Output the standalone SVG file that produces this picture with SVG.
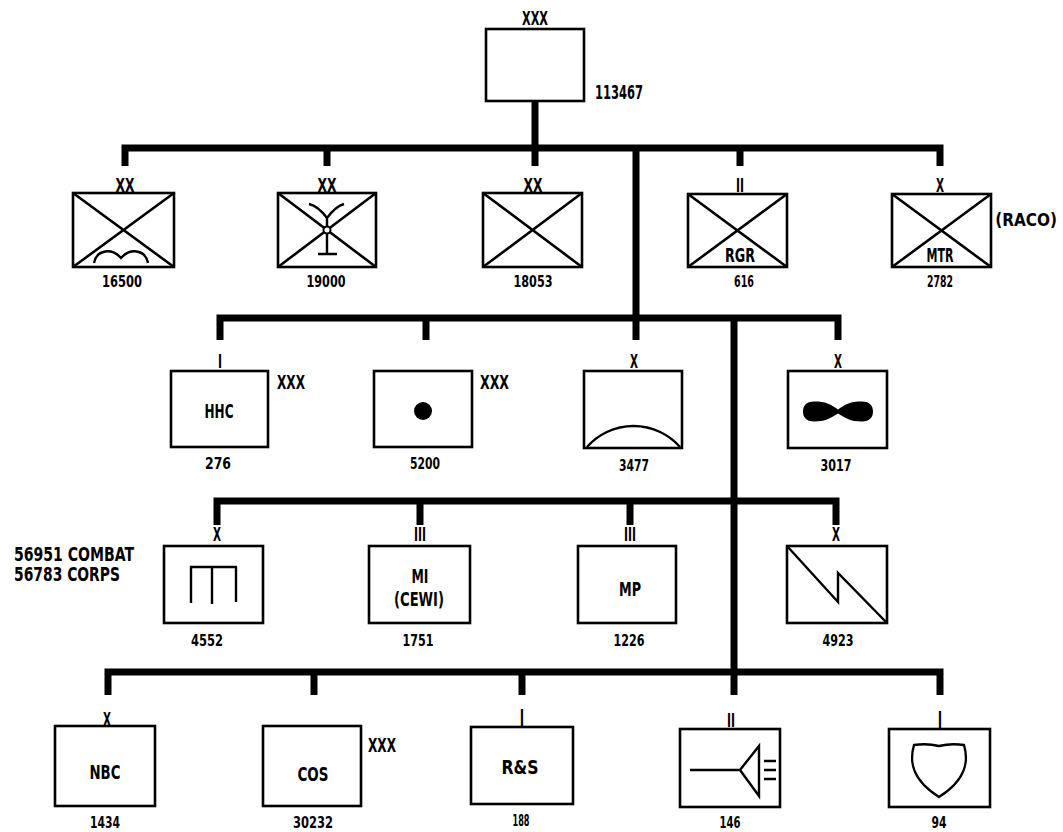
<svg xmlns="http://www.w3.org/2000/svg" width="1063" height="832" viewBox="0 0 1063 832">
<style>
.bg{fill:#fff}
.box{fill:none;stroke:#000;stroke-width:2.6}
.x{stroke:#000;stroke-width:2.6;fill:none}
.sym{stroke:#000;stroke-width:2.4;fill:none}
.con{stroke:#000;stroke-width:7;fill:none;stroke-linejoin:miter;stroke-linecap:butt}
text{font-family:"DejaVu Sans Condensed","Liberation Sans",sans-serif;font-weight:bold;fill:#000}
.num{font-size:16.5px;text-anchor:middle}
.lbl{font-size:20px;text-anchor:middle}
.ech{font-size:20px;text-anchor:middle}
.thin{font-weight:normal;font-size:24px;text-anchor:middle}
.side{font-size:19px}
</style>
<rect class="bg" x="0" y="0" width="1063" height="832"/>

<g id="connectors">
<path class="con" d="M535,101 V148"/>
<path class="con" d="M125,166 V148 H940 V166"/>
<path class="con" d="M327,148 V166 M740,148 V166 M535,148 V166"/>
<path class="con" d="M636,148 V340"/>
<path class="con" d="M220,340 V318 H838 V340 M426,318 V340"/>
<path class="con" d="M734,318 V695"/>
<path class="con" d="M217,525 V501 H836 V525 M420,501 V525 M630,501 V525"/>
<path class="con" d="M108,695 V672 H940 V695 M314,672 V695 M522,672 V695"/>
</g>

<g id="corps">
<rect class="box" x="486" y="29" width="98" height="72"/>
<text class="ech" x="535" y="25" font-size="19" textLength="26" lengthAdjust="spacingAndGlyphs">XXX</text>
<text class="side" x="595" y="99" font-size="16.5" textLength="48" lengthAdjust="spacingAndGlyphs">113467</text>
</g>

<g id="div-airborne">
<rect class="box" x="73" y="193" width="101" height="74"/>
<path class="x" d="M73,193 L174,267 M174,193 L73,267"/>
<path class="sym" d="M94,263 C97,249 112,248 121,258 C130,248 145,249 148,263"/>
<text class="ech" x="125" y="192" textLength="19" lengthAdjust="spacingAndGlyphs">XX</text>
<text class="num" x="122" y="287" textLength="40" lengthAdjust="spacingAndGlyphs">16500</text>
</g>

<g id="div-airmobile">
<rect class="box" x="278" y="193" width="98" height="74"/>
<path class="x" d="M278,193 L376,267 M376,193 L278,267"/>
<path class="sym" d="M309,204 Q318,206 327,218 Q336,206 344,204 M327,218 V254 M318,254 H337"/>
<circle cx="327" cy="230" r="3.5" fill="#fff" stroke="#000" stroke-width="2"/>
<text class="ech" x="327" y="192" textLength="19" lengthAdjust="spacingAndGlyphs">XX</text>
<text class="num" x="326" y="287" textLength="39" lengthAdjust="spacingAndGlyphs">19000</text>
</g>

<g id="div-infantry">
<rect class="box" x="483" y="193" width="99" height="74"/>
<path class="x" d="M483,193 L582,267 M582,193 L483,267"/>
<text class="ech" x="533" y="192" textLength="19" lengthAdjust="spacingAndGlyphs">XX</text>
<text class="num" x="533" y="287" textLength="39" lengthAdjust="spacingAndGlyphs">18053</text>
</g>

<g id="ranger">
<rect class="box" x="688" y="194" width="99" height="73"/>
<path class="x" d="M688,194 L787,267 M787,194 L688,267"/>
<text class="ech" x="740" y="192" textLength="8" lengthAdjust="spacingAndGlyphs">II</text>
<text class="lbl" x="740" y="262" font-size="19" textLength="30" lengthAdjust="spacingAndGlyphs">RGR</text>
<text class="num" x="744" y="287" textLength="20" lengthAdjust="spacingAndGlyphs">616</text>
</g>

<g id="mtr">
<rect class="box" x="892" y="194" width="99" height="73"/>
<path class="x" d="M892,194 L991,267 M991,194 L892,267"/>
<text class="ech" x="940" y="192" textLength="8" lengthAdjust="spacingAndGlyphs">X</text>
<text class="lbl" x="940" y="262" font-size="19" textLength="27" lengthAdjust="spacingAndGlyphs">MTR</text>
<text class="num" x="940" y="287" textLength="26" lengthAdjust="spacingAndGlyphs">2782</text>
<text x="1057" y="226" font-size="17" text-anchor="end">(RACO)</text>
</g>

<g id="hhc">
<rect class="box" x="171" y="371" width="97" height="76"/>
<text class="ech" x="220" y="368" textLength="4" lengthAdjust="spacingAndGlyphs">I</text>
<text class="side" x="277" y="389" textLength="28" lengthAdjust="spacingAndGlyphs">XXX</text>
<text class="lbl" x="219" y="418" textLength="29" lengthAdjust="spacingAndGlyphs">HHC</text>
<text class="num" x="218" y="469" textLength="26" lengthAdjust="spacingAndGlyphs">276</text>
</g>

<g id="arty">
<rect class="box" x="374" y="371" width="98" height="76"/>
<circle cx="423" cy="411" r="9" fill="#000"/>
<text class="side" x="480" y="389" textLength="29" lengthAdjust="spacingAndGlyphs">XXX</text>
<text class="num" x="425" y="469" textLength="30" lengthAdjust="spacingAndGlyphs">5200</text>
</g>

<g id="ada">
<rect class="box" x="584" y="371" width="98" height="77"/>
<path class="sym" d="M587,447 A62,62 0 0 1 680,447"/>
<text class="ech" x="634" y="368" textLength="8" lengthAdjust="spacingAndGlyphs">X</text>
<text class="num" x="634" y="471" textLength="30" lengthAdjust="spacingAndGlyphs">3477</text>
</g>

<g id="aviation">
<rect class="box" x="788" y="371" width="99" height="77"/>
<path fill="#000" d="M838,409.5 C830,404 826,401.5 814,401.5 C806,401.5 803,406 803,411.5 C803,417 806,421.5 814,421.5 C826,421.5 830,418 838,413.5 C846,418 850,421.5 862,421.5 C870,421.5 873,417 873,411.5 C873,406 870,401.5 862,401.5 C850,401.5 846,404 838,409.5 Z"/>
<text class="ech" x="838" y="368" textLength="8" lengthAdjust="spacingAndGlyphs">X</text>
<text class="num" x="836" y="471" textLength="31" lengthAdjust="spacingAndGlyphs">3017</text>
</g>

<g id="strength-note">
<text class="side" x="14" y="561" font-size="18" textLength="120" lengthAdjust="spacingAndGlyphs">56951 COMBAT</text>
<text class="side" x="14" y="581" font-size="18" textLength="106" lengthAdjust="spacingAndGlyphs">56783 CORPS</text>
</g>

<g id="engineer">
<rect class="box" x="164" y="546" width="99" height="77"/>
<path class="sym" d="M191,603 V567 H237 M212,567 V604 M236,567 V602" stroke-width="2.8"/>
<text class="ech" x="217" y="541" textLength="8" lengthAdjust="spacingAndGlyphs">X</text>
<text class="num" x="207" y="646" textLength="32" lengthAdjust="spacingAndGlyphs">4552</text>
</g>

<g id="mi">
<rect class="box" x="369" y="546" width="101" height="77"/>
<text class="ech" x="420" y="541" textLength="12" lengthAdjust="spacingAndGlyphs">III</text>
<text class="lbl" x="420" y="583" textLength="17" lengthAdjust="spacingAndGlyphs">MI</text>
<text class="lbl" x="419" y="606" textLength="50" lengthAdjust="spacingAndGlyphs">(CEWI)</text>
<text class="num" x="418" y="646" textLength="31" lengthAdjust="spacingAndGlyphs">1751</text>
</g>

<g id="mp">
<rect class="box" x="578" y="546" width="98" height="77"/>
<text class="ech" x="630" y="541" textLength="12" lengthAdjust="spacingAndGlyphs">III</text>
<text class="lbl" x="630" y="596" textLength="22" lengthAdjust="spacingAndGlyphs">MP</text>
<text class="num" x="629" y="646" textLength="31" lengthAdjust="spacingAndGlyphs">1226</text>
</g>

<g id="signal">
<rect class="box" x="787" y="546" width="100" height="77"/>
<path class="sym" d="M787,546 L838,602 L838,573 L887,623"/>
<text class="ech" x="836" y="541" textLength="8" lengthAdjust="spacingAndGlyphs">X</text>
<text class="num" x="838" y="646" textLength="31" lengthAdjust="spacingAndGlyphs">4923</text>
</g>

<g id="nbc">
<rect class="box" x="55" y="726" width="100" height="80"/>
<text class="ech" x="107" y="726" textLength="8" lengthAdjust="spacingAndGlyphs">X</text>
<text class="lbl" x="105" y="779" textLength="31" lengthAdjust="spacingAndGlyphs">NBC</text>
<text class="num" x="105" y="828" textLength="30" lengthAdjust="spacingAndGlyphs">1434</text>
</g>

<g id="cos">
<rect class="box" x="263" y="726" width="98" height="80"/>
<text class="side" x="368" y="752" textLength="28" lengthAdjust="spacingAndGlyphs">XXX</text>
<text class="lbl" x="313" y="781" textLength="31" lengthAdjust="spacingAndGlyphs">COS</text>
<text class="num" x="313" y="828" textLength="40" lengthAdjust="spacingAndGlyphs">30232</text>
</g>

<g id="rs">
<rect class="box" x="471" y="727" width="102" height="77"/>
<text class="thin" x="522" y="727">I</text>
<text class="lbl" x="520" y="774" textLength="37" lengthAdjust="spacingAndGlyphs">R&amp;S</text>
<text class="num" x="521" y="826" textLength="17" lengthAdjust="spacingAndGlyphs">188</text>
</g>

<g id="psyop">
<rect class="box" x="680" y="729" width="100" height="78"/>
<path class="sym" d="M690,770 H740 L759,746 V796 L740,770 M764,761 H776 M764,770 H776 M764,779 H776"/>
<text class="ech" x="731" y="727" textLength="8" lengthAdjust="spacingAndGlyphs">II</text>
<text class="num" x="730" y="828" textLength="21" lengthAdjust="spacingAndGlyphs">146</text>
</g>

<g id="ma">
<rect class="box" x="889" y="729" width="101" height="78"/>
<text class="thin" x="940" y="729">I</text>
<path class="sym" d="M914,745 Q927,743 939,746 Q951,743 964,745 C969,762 966,780 939,797 C912,780 909,762 914,745 Z"/>
<text class="num" x="939" y="828" textLength="15" lengthAdjust="spacingAndGlyphs">94</text>
</g>
</svg>
